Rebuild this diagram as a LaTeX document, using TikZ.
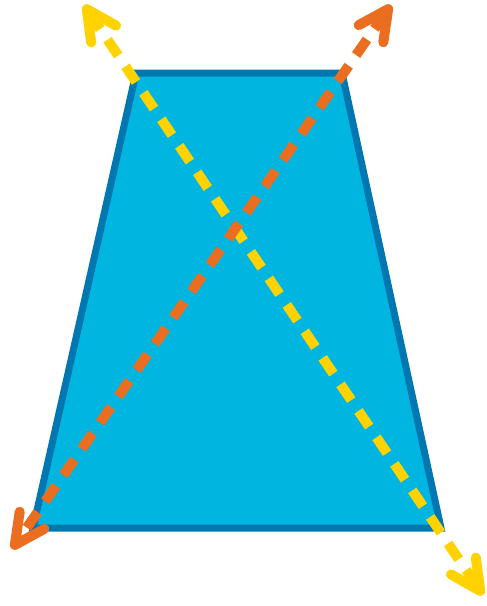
\documentclass[tikz,border=0pt]{standalone}
\usetikzlibrary{arrows.meta}
\definecolor{trapfill}{HTML}{00B6E0}
\definecolor{trapedge}{HTML}{0077B0}
\definecolor{ylw}{HTML}{FFD200}
\definecolor{org}{HTML}{EB6E20}
\tikzset{
  barb/.tip={Straight Barb[length=30pt, width=30pt, line width=10pt, round]},
  trap/.style={fill=trapfill, draw=trapedge, line width=7pt, line join=miter},
  diag/.style={line width=10pt, dash pattern=on 19pt off 13pt, arrows={barb-barb}},
}
\begin{document}
\begin{tikzpicture}[x=1pt, y=-1pt]
\useasboundingbox (0,0) rectangle (487,606);
\coordinate (tl) at (136,73);
\coordinate (tr) at (342,73);
\coordinate (br) at (441,528);
\coordinate (bl) at (33,528);
\coordinate (y1) at (84,5);
\coordinate (y2) at (483,595);
\coordinate (o1) at (391,5);
\coordinate (o2) at (12,549);
\draw[trap] (tl) -- (tr) -- (br) -- (bl) -- cycle;
\draw[diag, draw=ylw] (y1) -- (y2);
\draw[diag, draw=org] (o1) -- (o2);
\end{tikzpicture}
\end{document}
